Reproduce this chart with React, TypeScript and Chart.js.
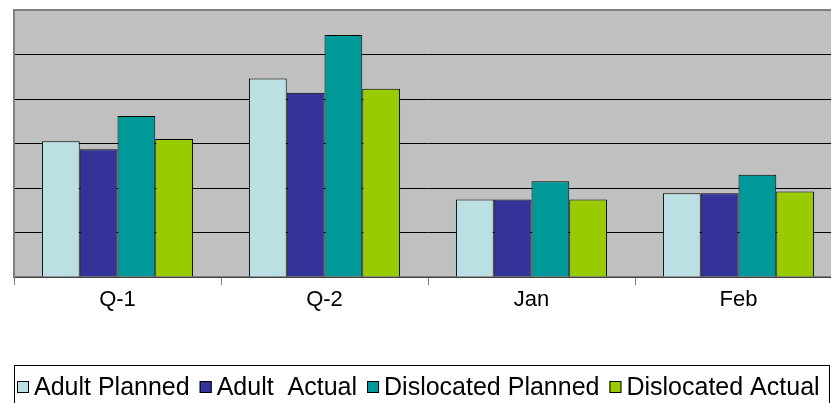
import React, { useEffect, useRef } from "react";
import { Chart, registerables } from "chart.js";

Chart.register(...registerables);

const categories = ["Q-1", "Q-2", "Jan", "Feb"];
const adultPlanned = [3.05, 4.46, 1.74, 1.88];
const adultActual = [2.87, 4.14, 1.74, 1.88];
const dislocatedPlanned = [3.62, 5.44, 2.15, 2.3];
const dislocatedActual = [3.1, 4.23, 1.74, 1.92];
const seriesNames = ["Adult Planned", "Adult  Actual", "Dislocated Planned", "Dislocated Actual"];
const seriesColors = ["#bbe0e3", "#333399", "#009999", "#99cc00"];

const FONT = "Arial, 'Liberation Sans', sans-serif";

const plotBg = {
  id: "plotBg",
  beforeDraw(chart: any) {
    const { ctx, chartArea } = chart;
    ctx.save();
    ctx.fillStyle = "#c0c0c0";
    ctx.fillRect(chartArea.left, chartArea.top, chartArea.right - chartArea.left, chartArea.bottom - chartArea.top);
    ctx.restore();
  },
};

// Boxed legend below the plot, built from the chart's datasets
const boxedLegend = {
  id: "boxedLegend",
  afterDraw(chart: any) {
    const { ctx } = chart;
    const datasets = chart.data.datasets;
    ctx.save();
    ctx.font = `25px ${FONT}`;
    ctx.textBaseline = "middle";
    ctx.textAlign = "left";
    const startX = 17;
    const cy = 387;
    const box = 12;
    const gapText = 5;
    const gapItem = 10;
    let x = startX;
    datasets.forEach((ds: any, i: number) => {
      ctx.fillStyle = ds.backgroundColor;
      ctx.fillRect(x, cy - box / 2, box, box);
      ctx.strokeStyle = "#000";
      ctx.lineWidth = 1;
      ctx.strokeRect(x + 0.5, cy - box / 2 + 0.5, box - 1, box - 1);
      ctx.fillStyle = "#000";
      const tx = x + box + gapText;
      ctx.fillText(ds.label, tx, cy + 1);
      x = tx + ctx.measureText(ds.label).width + (i < datasets.length - 1 ? gapItem : 0);
    });
    ctx.strokeStyle = "#000";
    ctx.lineWidth = 1;
    ctx.strokeRect(14.5, 365.5, 815, 40);
    ctx.restore();
  },
};

export default function App() {
  const ref = useRef<HTMLCanvasElement | null>(null);
  useEffect(() => {
    if (!ref.current) return;
    const data = [adultPlanned, adultActual, dislocatedPlanned, dislocatedActual];
    const chart = new Chart(ref.current, {
      type: "bar",
      data: {
        labels: categories,
        datasets: seriesNames.map((name, i) => ({
          label: name,
          data: data[i],
          backgroundColor: seriesColors[i],
          borderColor: "#000",
          borderWidth: 1,
          barPercentage: 1,
          categoryPercentage: 0.73,
        })),
      },
      options: {
        animation: false,
        responsive: false,
        devicePixelRatio: 1,
        layout: { padding: { left: 14, top: 10, right: 0, bottom: 0 } },
        plugins: {
          tooltip: { enabled: false },
          legend: { display: false },
        },
        scales: {
          x: {
            grid: {
              offset: true,
              drawOnChartArea: false,
              drawTicks: true,
              tickLength: 8,
              color: "#808080",
              lineWidth: 1,
            },
            border: { display: true, color: "#808080", width: 1.5 },
            ticks: {
              color: "#000",
              padding: 2,
              font: { family: FONT, size: 22 },
            },
            afterFit: (scale: any) => {
              scale.height = 126;
            },
          },
          y: {
            min: 0,
            max: 6,
            ticks: { display: false, stepSize: 1 },
            grid: {
              drawTicks: false,
              tickLength: 0,
              color: (c: any) => (c.tick && c.tick.value === 6 ? "#808080" : "#000"),
              lineWidth: (c: any) => (c.tick && c.tick.value === 6 ? 2 : 1),
            },
            border: { display: true, color: "#808080", width: 2 },
          },
        },
      },
      plugins: [plotBg, boxedLegend],
    });
    return () => chart.destroy();
  }, []);
  return (
    <div style={{ position: "fixed", left: 0, top: 0, width: 831, height: 403, overflow: "hidden", background: "#fff" }}>
      <canvas ref={ref} width={842} height={403} style={{ width: 842, height: 403, display: "block" }} />
    </div>
  );
}
